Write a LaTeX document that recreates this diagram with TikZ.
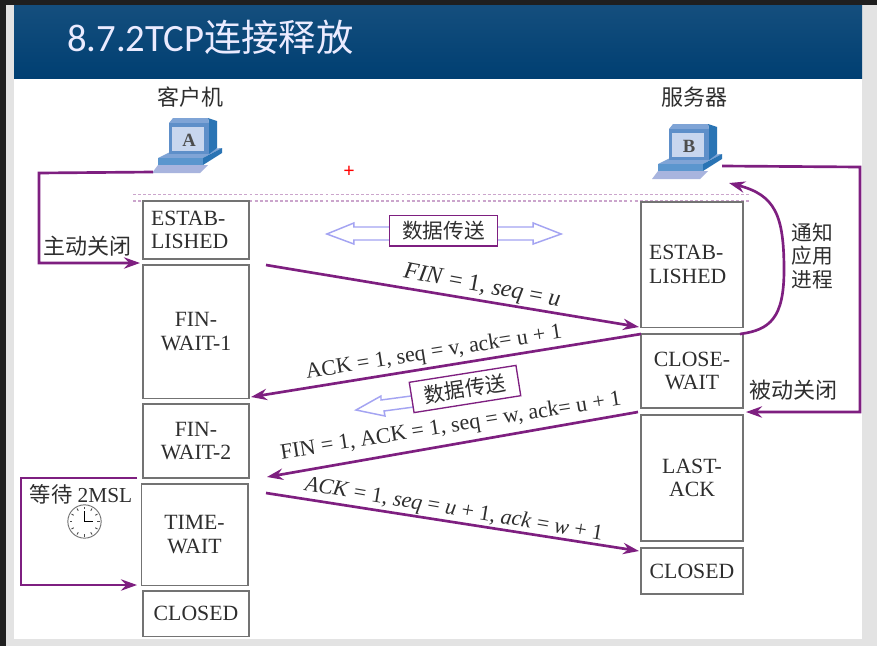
\documentclass[tikz,border=0pt]{standalone}
\usepackage{fontspec}
\setmainfont{Liberation Serif}
\newfontfamily\cjk{Noto Sans CJK SC}
\newfontfamily\titlefont{Carlito}
\usepackage{xcolor}
\usetikzlibrary{arrows.meta,positioning}
\definecolor{arrowpurple}{HTML}{7E1F80}
\definecolor{headerblue}{HTML}{003F72}
\definecolor{hollowblue}{HTML}{A4A4F2}
\definecolor{inkgray}{HTML}{2E2E2E}
\definecolor{pcfront}{HTML}{5E8FC9}
\definecolor{pcside}{HTML}{2A74B4}
\definecolor{pcscreen}{HTML}{C8D6EE}
\definecolor{pctop}{HTML}{7FA4D6}
\definecolor{pcbase}{HTML}{5B96CE}
\definecolor{pcplate}{HTML}{A8B4DE}

\tikzset{
    pc/.pic={
        \fill [pcplate] (-38,33) -- (-32,25) -- (18,25) -- (10,33) -- cycle;
        \fill [pctop] (-32,18) -- (-20,12) -- (32,8) -- (13,18) -- cycle;
        \fill [pcbase] (-32,18) rectangle (13,25);
        \fill [pcside] (13,18) -- (32,8) -- (32,13) -- (13,25) -- cycle;
        \fill [pcside] (19,-17) -- (18,-22) -- (27,-19) -- (27,8) -- (19,14) -- cycle;
        \fill [pctop] (-21,-17) -- (-17,-22) -- (18,-22) -- (19,-17) -- cycle;
        \fill [pcfront] (-21,-17) rectangle (19,14);
        \fill [pcscreen] (-18,-13) rectangle (14,11);
        \node [font=\bfseries\fontsize{14}{14}\selectfont, text=inkgray!85!white] (-letter) at (-1,0) {#1};
        \coordinate (-west) at (-37,32);
        \coordinate (-east) at (32,20);
        \coordinate (-in) at (39,37);
    }
}

\begin{document}
\begin{tikzpicture}[
    x=0.75pt, y=-0.75pt,
    statebox/.style={rectangle, draw=black!55, line width=1pt, fill=white, inner sep=0pt, align=center, text=inkgray, font=\fontsize{16.3}{17.5}\selectfont},
    msgarrow/.style={-{Stealth[length=12pt,width=8.5pt]}, line width=2pt, draw=arrowpurple},
    msglabel/.style={text=inkgray, inner sep=0pt, font=\fontsize{16.5}{18}\selectfont},
    cnlabel/.style={text=inkgray, inner sep=0pt, align=center, font=\cjk\fontsize{16.5}{17.5}\selectfont},
    databox/.style={rectangle, draw=arrowpurple, line width=1pt, fill=white, minimum width=81pt, minimum height=23pt, inner sep=0pt, text=inkgray, font=\cjk\fontsize{15.5}{16}\selectfont},
    hollow/.style={draw=hollowblue, line width=1.1pt, fill=white},
    dotline/.style={draw=arrowpurple!40, line width=1pt, dash pattern=on 2.2pt off 1.6pt}
]
    \useasboundingbox (0,0) rectangle (877,646);

    % slide
    \fill [black!88] (0,0) rectangle (877,646);
    \fill [black!11] (6,5) rectangle (877,646);
    \fill [white] (14,78) rectangle (862,639);
    \shade [top color=headerblue!92!white, bottom color=headerblue] (14,5) rectangle (862,78);
    \node [anchor=west, inner sep=0pt, text=white!92!blue, font=\titlefont\fontsize{29}{29}\selectfont] (title) at (67,37) {8.7.2TCP{\cjk\fontsize{28}{28}\selectfont 连接释放}};

    % hosts
    \node [cnlabel] (client) at (190,97) {客户机};
    \node [cnlabel] (server) at (694,97) {服务器};
    \pic (pcA) at (190,140) {pc=A};
    \pic (pcB) at (690,146) {pc=B};
    \node [text=red, inner sep=0pt, font=\bfseries\fontsize{15}{15}\selectfont] (cursor) at (349,172) {+};

    \draw [dotline] (133,194.5) -- (749,194.5);
    \draw [dotline] (133,201) -- (749,201);

    % client states
    \node [statebox, minimum width=79.5pt, minimum height=43.5pt, align=left, text width=67.5pt] (estabA) at (196,230) {ESTAB-\\LISHED};
    \node [statebox, minimum width=79.5pt, minimum height=100pt] (finwait1) at (196,331.5) {FIN-\\WAIT-1};
    \node [statebox, minimum width=79.5pt, minimum height=55.5pt] (finwait2) at (196,441) {FIN-\\WAIT-2};
    \node [statebox, minimum width=80pt, minimum height=76pt] (timewait) at (194.5,534.5) {TIME-\\WAIT};
    \node [statebox, minimum width=79.5pt, minimum height=34pt] (closedA) at (196,613.5) {CLOSED};

    % server states
    \node [statebox, minimum width=76.5pt, minimum height=94pt, align=left, text width=64.5pt] (estabB) at (692,264.5) {ESTAB-\\LISHED};
    \node [statebox, minimum width=76.5pt, minimum height=55.5pt] (closewait) at (692,371) {CLOSE-\\WAIT};
    \node [statebox, minimum width=76.5pt, minimum height=94.5pt] (lastack) at (692,478) {LAST-\\ACK};
    \node [statebox, minimum width=76.5pt, minimum height=34.5pt] (closedB) at (692,571) {CLOSED};

    % segments
    \coordinate (finAs) at (266,265);
    \coordinate (finAe) at (639,327);
    \coordinate (ackBs) at (641,334);
    \coordinate (ackBe) at (251,397);
    \coordinate (finBs) at (638,412);
    \coordinate (finBe) at (267,477);
    \coordinate (ackAs) at (266,493);
    \coordinate (ackAe) at (639,551);
    \draw [msgarrow] (finAs) -- (finAe);
    \draw [msgarrow] (ackBs) -- (ackBe);
    \draw [msgarrow] (finBs) -- (finBe);
    \draw [msgarrow] (ackAs) -- (ackAe);
    \node [msglabel, rotate=-10.5, font=\fontsize{18}{18}\selectfont] (finAl) at (482,287) {\textit{FIN} = 1, \textit{seq} = \textit{u}};
    \node [msglabel, rotate=9] (ackBl) at (434,353) {ACK = 1, seq = v, ack= u + 1};
    \node [msglabel, rotate=9] (finBl) at (451,427) {FIN = 1, ACK = 1, seq = w, ack= u + 1};
    \node [msglabel, rotate=-9.5] (ackAl) at (454,510) {\textit{ACK} = 1, \textit{seq} = \textit{u} + 1, \textit{ack} = \textit{w} + 1};

    % data transfer
    \node [databox] (dataA) at (443.5,230.5) {数据传送};
    \draw [hollow] (dataA.west) ++(0,-3.5) -- ++(-35,0) -- ++(0,-4) -- ++(-27,11) -- ++(27,10) -- ++(0,-4) -- ++(35,0);
    \draw [hollow] (dataA.east) ++(0,-3.5) -- ++(35,0) -- ++(0,-4) -- ++(28,11) -- ++(-28,10) -- ++(0,-4) -- ++(-35,0);
    \draw [hollow] (411,396) -- (381,400) -- (381,396) -- (356,410) -- (385,416) -- (384,411) -- (414,407);
    \node [databox, rotate=9] (dataB) at (465,389) {数据传送};

    % closing
    \draw [msgarrow] (pcA-west) -- (39,173) -- (39,263) -- (140,263);
    \node [cnlabel] (active) at (87,246) {主动关闭};
    \draw [msgarrow] (pcB-east) -- (860,167) -- (860,412) -- (746,412);
    \node [cnlabel] (passive) at (793,390) {被动关闭};
    \draw [msgarrow] (740,334) .. controls (770,330) and (784,318) .. (784,270) .. controls (784,215) and (775,195) .. (pcB-in);
    \node [cnlabel, font=\cjk\fontsize{15.5}{17.5}\selectfont] (notify) at (812,256) {通知\\应用\\进程};

    % timer
    \draw [msgarrow] (137,478) -- (21,478) -- (21,585) -- (137,585);
    \node [text=inkgray, inner sep=0pt, font=\fontsize{16}{16}\selectfont] (wait) at (81,494) {{\cjk 等待} 2MSL};
    \node [circle, draw=black!55, line width=0.7pt, fill=white, minimum size=25pt, inner sep=0pt] (clock) at (84.5,521.5) {};
    \foreach \a in {0,30,...,330} {
        \draw [black!70, line width=0.7pt] (clock.center) ++(\a:12.5) -- ++(\a:2.5);
    }
    \draw [black, line width=1.3pt] (clock.center) -- ++(0,-11);
    \draw [black, line width=1.3pt] (clock.center) -- ++(8,0);
\end{tikzpicture}
\end{document}
